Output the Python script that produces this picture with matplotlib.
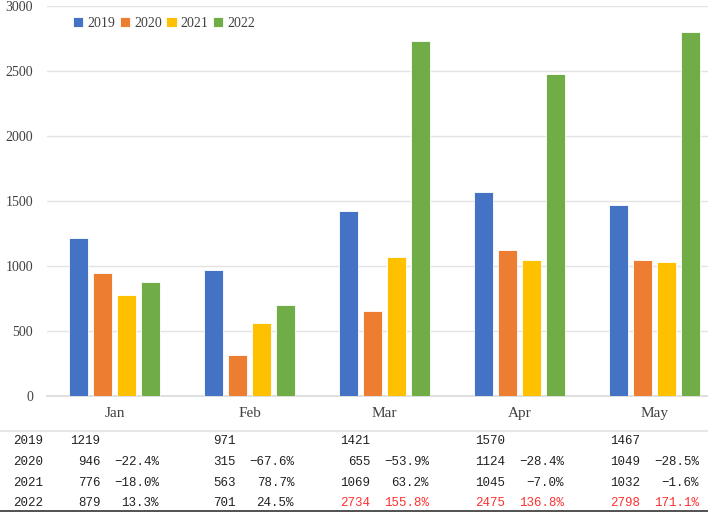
import numpy as np
import matplotlib.pyplot as plt
from matplotlib.transforms import blended_transform_factory

# Data
months = ["Jan", "Feb", "Mar", "Apr", "May"]
years = ["2019", "2020", "2021", "2022"]
v2019 = [1219, 971, 1421, 1570, 1467]
v2020 = [946, 315, 655, 1124, 1049]
v2021 = [776, 563, 1069, 1045, 1032]
v2022 = [879, 701, 2734, 2475, 2798]
p2020 = ["-22.4%", "-67.6%", "-53.9%", "-28.4%", "-28.5%"]
p2021 = ["-18.0%", "78.7%", "63.2%", "-7.0%", "-1.6%"]
p2022 = ["13.3%", "24.5%", "155.8%", "136.8%", "171.1%"]
red_2022 = [False, False, True, True, True]

colors = ["#4472C4", "#ED7D31", "#FFC000", "#70AD47"]

W, H = 708, 512
fig = plt.figure(figsize=(W / 100, H / 100), dpi=100)
# plot area runs a little past the right edge, as in the screenshot
ax = fig.add_axes([47 / W, (H - 396) / H, 675 / W, 390 / H])

x = np.arange(len(months))
series = [v2019, v2020, v2021, v2022]
bw = 0.14
step = 0.178
for i, vals in enumerate(series):
    ax.bar(x + (i - 1.5) * step, vals, width=bw, color=colors[i],
           edgecolor="white", linewidth=0.6, label=years[i], zorder=3)

ax.set_xlim(-0.5, len(months) - 0.5)
ax.set_ylim(0, 3000)
ax.set_yticks(range(0, 3001, 500))
ax.grid(axis="y", color="#E3E3E3", linewidth=1, zorder=0)
for s in ["top", "right", "left"]:
    ax.spines[s].set_visible(False)
ax.spines["bottom"].set_color("#D9D9D9")
ax.spines["bottom"].set_linewidth(1.2)
ax.tick_params(axis="both", length=0)
ax.tick_params(axis="y", pad=10, labelsize=10, labelcolor="#404040")
ax.set_xticks(x)
ax.set_xticklabels(months, fontsize=11, color="#404040")
ax.tick_params(axis="x", pad=8)
for lab in ax.get_yticklabels() + ax.get_xticklabels():
    lab.set_family("Liberation Serif")

leg = ax.legend(loc="upper left", bbox_to_anchor=(0.02, 1.005), ncol=4,
                frameon=False, handlelength=0.75, handleheight=0.75,
                handletextpad=0.3, columnspacing=0.3,
                prop={"family": "Liberation Serif", "size": 10})
for t in leg.get_texts():
    t.set_color("#404040")

# table under the chart
trans = blended_transform_factory(ax.transData, fig.transFigure)
row_y = [(H - 441) / H, (H - 462) / H, (H - 483) / H, (H - 503) / H]
vals_rows = [v2019, v2020, v2021, v2022]
pct_rows = [None, p2020, p2021, p2022]
tfont = dict(family="Liberation Mono", size=9)

for r, yr in enumerate(years):
    fig.text(13 / W, row_y[r], yr, ha="left", va="center", color="#222222", **tfont)
    for j in range(len(months)):
        c = "#FF3030" if (r == 3 and red_2022[j]) else "#222222"
        ax.text(x[j] - 0.105, row_y[r], str(vals_rows[r][j]), transform=trans,
                ha="right", va="center", color=c, clip_on=False, **tfont)
        if pct_rows[r] is not None:
            txt = pct_rows[r][j].replace("-", "\u2212")
            ax.text(x[j] + 0.33, row_y[r], txt, transform=trans,
                    ha="right", va="center", color=c, clip_on=False, **tfont)

fig.add_artist(plt.Line2D([0, 1], [(H - 431) / H] * 2, color="#E6E6E6",
                          linewidth=1.5, transform=fig.transFigure))
fig.add_artist(plt.Line2D([0, 1], [(H - 511) / H] * 2, color="#333333",
                          linewidth=1.2, transform=fig.transFigure))

fig.savefig("out.png", dpi=100)
